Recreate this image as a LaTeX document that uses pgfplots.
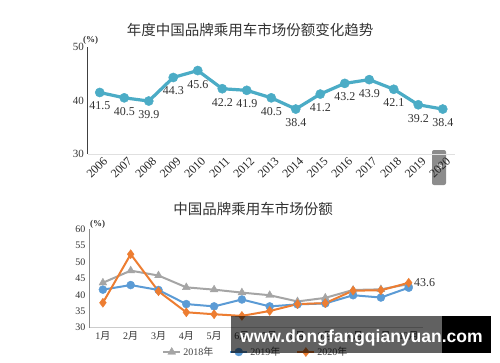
\documentclass[border=0pt]{standalone}
\usepackage{pgfplots}
\pgfplotsset{compat=1.18}
\usepackage{fontspec}
\setmainfont{Liberation Serif}
\newfontfamily\cjk{Noto Sans CJK SC}
\newfontfamily\wmfont{Liberation Sans}
\definecolor{teal1}{RGB}{75,172,198}
\definecolor{g18}{RGB}{165,165,165}
\definecolor{b19}{RGB}{91,155,213}
\definecolor{o20}{RGB}{237,125,49}
\begin{document}
\begin{tikzpicture}[x=1pt,y=1pt]
\path[use as bounding box, fill=white] (0,0) rectangle (500,362);
% navigation button
\fill[black!45, rounded corners=2pt] (432,177) rectangle (446,212);
\node[text=white, font=\wmfont\fontsize{11}{11}\selectfont] at (440,194.5) {>};
% top title
\node[font=\cjk\fontsize{14.5}{15}\selectfont, text=black!80] at (250,332) {年度中国品牌乘用车市场份额变化趋势};
\begin{axis}[at={(87.5pt,208pt)}, anchor=south west, scale only axis,
  width=367.5pt, height=107pt,
  xmin=2005.5, xmax=2020.5, ymin=30, ymax=50,
  ytick={30,40,50}, xtick={2006,...,2020},
  axis x line*=bottom, axis y line*=left,
  x axis line style={draw=black!12, line width=0.8pt},
  y axis line style={draw=black!75, line width=0.6pt},
  major tick length=0pt,
  tick label style={font=\fontsize{11}{12}\selectfont, text=black!80},
  /pgf/number format/assume math mode=true,
  /pgf/number format/1000 sep={},
  x tick label style={rotate=45, anchor=north east, xshift=4pt, font=\fontsize{12}{12}\selectfont, text=black!85},
  clip=false]
\addplot[teal1, line width=3.2pt, mark=*, mark size=4.6pt, mark options={line width=0.4pt},
  nodes near coords={\pgfmathprintnumber[fixed,fixed zerofill,precision=1,assume math mode=true]{\pgfplotspointmeta}},
  nodes near coords align={below},
  every node near coord/.append style={font=\fontsize{12}{12}\selectfont, text=black!80, yshift=-6pt}]
coordinates {(2006,41.5) (2007,40.5) (2008,39.9) (2009,44.3) (2010,45.6) (2011,42.2) (2012,41.9) (2013,40.5) (2014,38.4) (2015,41.2) (2016,43.2) (2017,43.9) (2018,42.1) (2019,39.2) (2020,38.4)};
\node[anchor=south, font=\bfseries\fontsize{9}{9}\selectfont, text=black!80, inner sep=1pt, xshift=3pt, yshift=1pt] at (axis cs:2005.5,50) {(\%)};
\end{axis}
% bottom title
\node[font=\cjk\fontsize{14.5}{15}\selectfont, text=black!80] at (253,153) {中国品牌乘用车市场份额};
\begin{axis}[at={(89pt,34.3pt)}, anchor=south west, scale only axis,
  width=333.6pt, height=98.4pt,
  xmin=0.5, xmax=12.5, ymin=30, ymax=60,
  ytick={30,35,...,60}, xtick={1,...,12},
  xticklabels={{1\cjk 月},{2\cjk 月},{3\cjk 月},{4\cjk 月},{5\cjk 月},{6\cjk 月},{7\cjk 月},{8\cjk 月},{9\cjk 月},{10\cjk 月},{11\cjk 月},{12\cjk 月}},
  axis x line*=bottom, axis y line*=left,
  x axis line style={draw=black!20, line width=0.8pt},
  y axis line style={draw=black!45, line width=0.6pt},
  major tick length=0pt,
  tick label style={font=\fontsize{10}{11}\selectfont, text=black!80},
  /pgf/number format/assume math mode=true,
  legend columns=3,
  legend style={at={(0.5,-0.247)}, anchor=center, draw=none, fill=none,
    font=\fontsize{10}{10}\selectfont, text=black!75,
    /tikz/every even column/.append style={column sep=14pt}},
  clip=false]
\addplot[g18, line width=2pt, mark=triangle*, mark size=4.5pt, mark options={line width=0.4pt}]
coordinates {(1,43.7) (2,47.4) (3,45.9) (4,42.3) (5,41.6) (6,40.7) (7,39.9) (8,38.0) (9,39.1) (10,41.5) (11,41.7) (12,43.3)};
\addplot[b19, line width=2pt, mark=*, mark size=4pt, mark options={line width=0.4pt}]
coordinates {(1,41.6) (2,43.0) (3,41.5) (4,37.2) (5,36.5) (6,38.6) (7,36.5) (8,37.1) (9,37.4) (10,39.9) (11,39.2) (12,42.2)};
\addplot[o20, line width=2pt, mark=diamond*, mark size=4.5pt, mark options={line width=0.4pt}]
coordinates {(1,37.6) (2,52.4) (3,41.1) (4,34.7) (5,34.1) (6,33.6) (7,35.1) (8,37.2) (9,37.5) (10,41.3) (11,41.4) (12,43.7)};
\legend{{2018\cjk 年},{2019\cjk 年},{2020\cjk 年}}
\node[anchor=west, font=\fontsize{12}{12}\selectfont, text=black!80, xshift=2pt] at (axis cs:12,43.7) {43.6};
\node[anchor=south west, font=\bfseries\fontsize{9}{9}\selectfont, text=black!80, inner sep=1pt] at (axis cs:0.5,60) {(\%)};
\end{axis}
% watermark
\fill[black, opacity=0.62] (231,9.3) rectangle (442,46);
\fill[black] (442,9.3) rectangle (491,46);
\node[anchor=base west, text=white, font=\wmfont\bfseries\fontsize{17.5}{18}\selectfont, inner sep=0pt] at (240,19.3) {www.dongfangqianyuan.com};
\end{tikzpicture}
\end{document}
